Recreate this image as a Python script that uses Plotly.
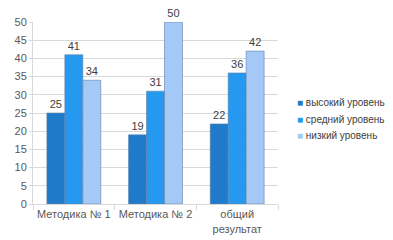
import plotly.graph_objects as go

categories = ["Методика № 1", "Методика № 2", "общий<br>результат"]
series_names = ["высокий уровень", "средний уровень", "низкий уровень"]
high = [25, 19, 22]
mid = [41, 31, 36]
low = [34, 50, 42]
y_ticks = [0, 5, 10, 15, 20, 25, 30, 35, 40, 45, 50]

colors = ["#1f7bc9", "#2499ef", "#a5c9f6"]
fig = go.Figure()
for name, vals, c in zip(series_names, [high, mid, low], colors):
    fig.add_trace(go.Bar(
        x=categories, y=vals, name=name, showlegend=False,
        marker=dict(color=c, line=dict(color="#5f7fa6", width=0.6)),
        text=[str(v) for v in vals], textposition="outside", cliponaxis=False,
        textfont=dict(size=11, color="#404040", family="Liberation Sans"),
    ))

legend_y = [0.555, 0.467, 0.379]
for name, c, ly in zip(series_names, colors, legend_y):
    fig.add_annotation(
        xref="paper", yref="paper", x=1.071, y=ly, xanchor="left", yanchor="middle",
        text=f"<span style='color:{c}'>■</span> {name}", showarrow=False,
        font=dict(size=10, color="#404040", family="Liberation Sans"),
    )

fig.update_layout(
    width=393, height=240, barmode="group", bargap=0.34, bargroupgap=0,
    margin=dict(l=25, r=123, t=14, b=44, autoexpand=False),
    paper_bgcolor="white", plot_bgcolor="white",
    font=dict(family="Liberation Sans", size=11, color="#595959"),
    showlegend=False,
)
fig.update_xaxes(showline=True, linecolor="#d9d9d9", ticks="outside",
                 tickson="boundaries", tickcolor="#d9d9d9", ticklen=5,
                 tickangle=0, automargin=False,
                 tickfont=dict(size=11, color="#595959"))
fig.update_yaxes(range=[0, 50], tickvals=y_ticks, showgrid=True,
                 gridcolor="#d9d9d9", showline=True, linecolor="#d9d9d9",
                 ticks="outside", tickcolor="#d9d9d9", ticklen=3,
                 automargin=False,
                 tickfont=dict(size=11, color="#595959"), zeroline=False)

fig.write_html("out.html")
